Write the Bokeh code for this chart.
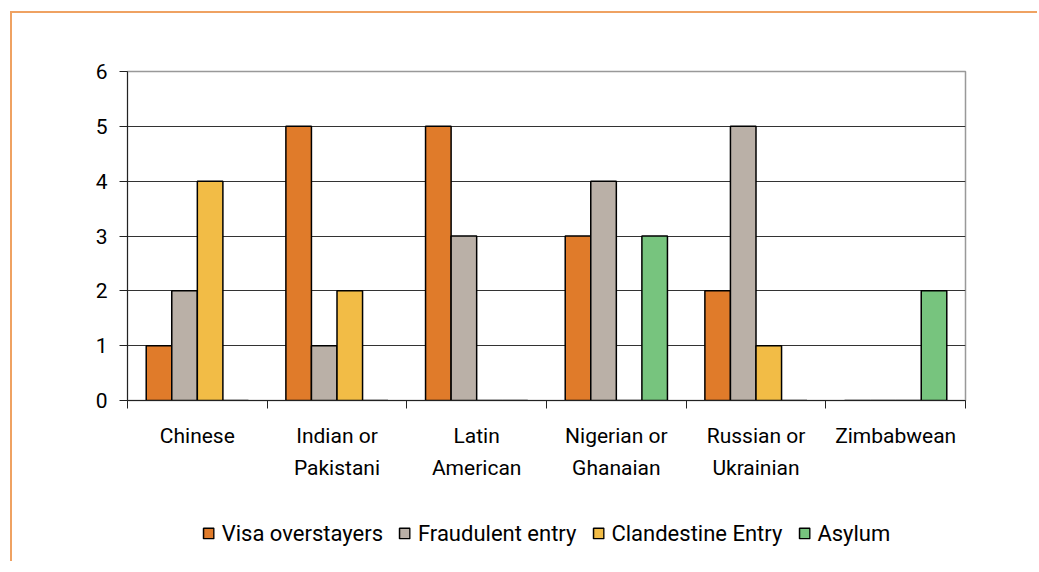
from bokeh.plotting import figure
from bokeh.models import FixedTicker, Range1d, Legend
from bokeh.layouts import column
from bokeh.embed import file_html
from bokeh.resources import INLINE

categories = ["Chinese", "Indian or\nPakistani", "Latin\nAmerican", "Nigerian or\nGhanaian", "Russian or\nUkrainian", "Zimbabwean"]
series_names = ["Visa overstayers", "Fraudulent entry", "Clandestine Entry", "Asylum"]
visa = [1, 5, 5, 3, 2, 0]
fraud = [2, 1, 3, 4, 5, 0]
clandestine = [4, 2, 0, 0, 1, 0]
asylum = [0, 0, 0, 3, 0, 2]
y_ticks = [0, 1, 2, 3, 4, 5, 6]

colors = ["#E07B2A", "#BAB0A7", "#F2BC46", "#77C47E"]
FONT = "Roboto"

p = figure(width=1025, height=492, output_backend="svg", toolbar_location=None,
           x_range=Range1d(0, 6), y_range=Range1d(0, 6),
           min_border_left=115, min_border_right=72, min_border_top=58, min_border_bottom=105)

w = 0.183
offsets = [-1.5 * w, -0.5 * w, 0.5 * w, 1.5 * w]
centers = [i + 0.5 for i in range(len(categories))]
series = [visa, fraud, clandestine, asylum]
for name, vals, col, off in zip(series_names, series, colors, offsets):
    xs = [c + off for c in centers]
    p.vbar(x=xs, top=vals, width=w, fill_color=col, line_color="black", line_width=1.5)

p.xaxis.ticker = FixedTicker(ticks=centers, minor_ticks=list(range(7)))
p.xaxis.major_label_overrides = {c: lab for c, lab in zip(centers, categories)}
p.xaxis.major_tick_out = 0
p.xaxis.major_tick_in = 0
p.xaxis.minor_tick_out = 8
p.xaxis.minor_tick_in = 0
p.xaxis.major_label_standoff = 15
p.xaxis.major_label_text_line_height = 1.35
p.xaxis.axis_line_color = "#222222"
p.xaxis.minor_tick_line_color = "#222222"

p.yaxis.ticker = FixedTicker(ticks=y_ticks)
p.yaxis.major_tick_out = 8
p.yaxis.major_tick_in = 0
p.yaxis.minor_tick_line_color = None
p.yaxis.major_label_standoff = 12
p.yaxis.axis_line_color = "#222222"
p.yaxis.major_tick_line_color = "#222222"

for ax in (p.xaxis, p.yaxis):
    ax.major_label_text_font = FONT
    ax.major_label_text_font_size = "21px"
    ax.major_label_text_color = "black"

p.xgrid.grid_line_color = None
p.ygrid.ticker = FixedTicker(ticks=[1, 2, 3, 4, 5])
p.ygrid.grid_line_color = "#333333"
p.outline_line_color = "#999999"
p.outline_line_width = 1.5

# legend strip: proxy renderers with non-finite coordinates (never drawn), only swatches show
nan = float("nan")
p2 = figure(width=1025, height=56, output_backend="svg", toolbar_location=None,
            x_range=Range1d(0, 1), y_range=Range1d(0, 1),
            x_axis_location=None, y_axis_location=None,
            min_border_left=115, min_border_right=72, min_border_top=0, min_border_bottom=0)
p2.grid.visible = False
p2.outline_line_color = None
items = []
for name, col in zip(series_names, colors):
    r = p2.vbar(x=[nan], top=[nan], width=w, fill_color=col, line_color="black", line_width=1.5)
    items.append((name, [r]))
legend = Legend(items=items, orientation="horizontal", location="center",
                border_line_color=None, background_fill_alpha=0,
                label_text_font=FONT, label_text_font_size="22px", label_text_color="black",
                glyph_width=13, glyph_height=13, label_standoff=7, spacing=15,
                padding=0, margin=0)
p2.add_layout(legend, "center")

layout = column(p, p2, spacing=0)
layout.styles = {"border-top": "2px solid #EFA262", "border-left": "2px solid #EFA262",
                 "margin-left": "10px", "margin-top": "11px"}

open("out.html", "w").write(file_html(layout, INLINE))
